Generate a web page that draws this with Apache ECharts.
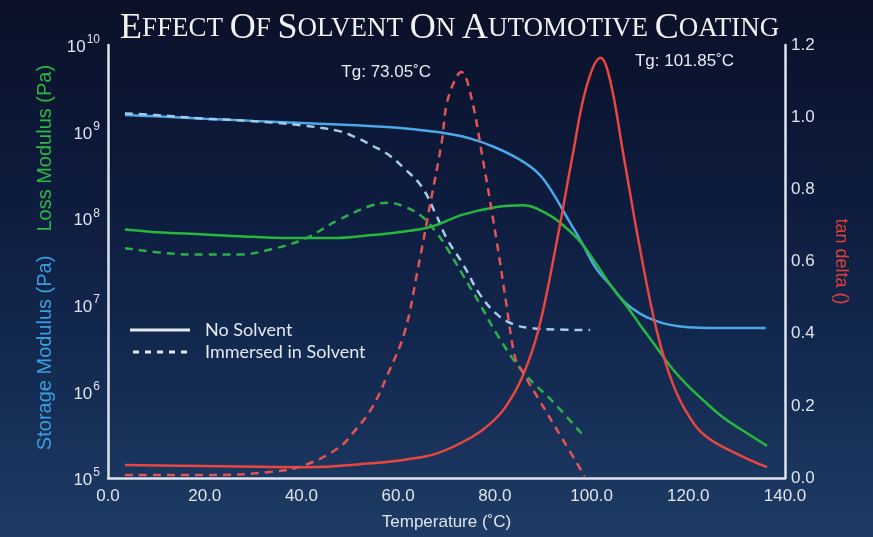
<!DOCTYPE html>
<html>
<head>
<meta charset="utf-8">
<script src="https://cdn.jsdelivr.net/npm/echarts@6/dist/echarts.min.js"></script>
<style>
html,body{margin:0;padding:0;background:#0c1530;}
#c{width:873px;height:537px;}
</style>
</head>
<body>
<div id="c"></div>
<script>
// ---- Data ----
// Storage modulus, no solvent (Pa)
const storageSolidT = [3.5, 10, 20, 30, 40, 50, 60, 66, 70, 75, 80, 85, 89, 92, 95, 98, 101, 104, 107, 110, 113, 116, 120, 125, 130, 136];
const storageSolidV = [1.55e9, 1.50e9, 1.41e9, 1.33e9, 1.26e9, 1.19e9, 1.11e9, 1.02e9, 9.5e8, 8.3e8, 6.6e8, 4.8e8, 3.3e8, 1.95e8, 1.0e8, 5.2e7, 2.6e7, 1.66e7, 1.05e7, 7.9e6, 6.6e6, 5.9e6, 5.5e6, 5.4e6, 5.4e6, 5.4e6];
// Storage modulus, immersed in solvent (Pa)
const storageDashT = [3.5, 10, 20, 30, 40, 47.6, 51, 54.6, 58, 61.4, 64.9, 68, 70, 73.4, 76.9, 80.4, 83.7, 87.3, 92, 99.7];
const storageDashV = [1.62e9, 1.55e9, 1.41e9, 1.32e9, 1.18e9, 1.02e9, 8.7e8, 6.9e8, 5.4e8, 3.7e8, 2.3e8, 1.05e8, 5.9e7, 2.95e7, 1.32e7, 7.8e6, 6.0e6, 5.4e6, 5.2e6, 5.1e6];
// Loss modulus, no solvent (Pa)
const lossSolidT = [3.5, 10, 20, 30, 40, 47, 54.6, 60, 66.6, 73.4, 80.4, 85.8, 90.8, 94.1, 97.6, 101, 104.4, 108, 110, 113.5, 116.8, 120, 123.9, 127, 130.7, 136.3];
const lossSolidV = [7.4e7, 6.9e7, 6.5e7, 6.1e7, 5.9e7, 5.9e7, 6.4e7, 6.9e7, 7.9e7, 1.1e8, 1.35e8, 1.41e8, 1.12e8, 8.3e7, 5.4e7, 2.95e7, 1.55e7, 8.5e6, 5.9e6, 3.2e6, 1.8e6, 1.15e6, 7.2e5, 5.1e5, 3.7e5, 2.35e5];
// Loss modulus, immersed in solvent (Pa)
const lossDashT = [3.5, 13.2, 20, 26.9, 33.9, 40.7, 47.6, 54.6, 57.9, 61.4, 64.9, 68.2, 70.1, 73.4, 76.9, 80.4, 85.6, 92.4, 98.6];
const lossDashV = [4.5e7, 3.9e7, 3.8e7, 3.8e7, 4.4e7, 5.8e7, 9.5e7, 1.41e8, 1.51e8, 1.35e8, 1.05e8, 6.5e7, 4.5e7, 2.2e7, 1.02e7, 4.6e6, 1.74e6, 7.2e5, 2.95e5];
// tan delta, no solvent
const tanSolidT = [3.5, 20, 40.7, 54.6, 62, 68.2, 75.2, 79, 82.1, 85.6, 89, 92.8, 96.2, 99, 101.85, 103.8, 106.5, 110, 113.5, 116.8, 120.3, 123.9, 130.7, 136.3];
const tanSolidV = [0.036, 0.033, 0.030, 0.041, 0.052, 0.069, 0.113, 0.15, 0.195, 0.278, 0.41, 0.655, 0.903, 1.087, 1.165, 1.104, 0.903, 0.636, 0.407, 0.261, 0.168, 0.113, 0.063, 0.030];
// tan delta, immersed in solvent
const tanDashT = [3.5, 20, 33.9, 40.7, 47.6, 51.1, 54.6, 57.9, 61.4, 64.1, 66.6, 69, 70.1, 72, 73.05, 74.9, 77.5, 80.4, 82.4, 84.2, 85.6, 89, 93.9, 98.6];
const tanDashV = [0.008, 0.008, 0.017, 0.036, 0.083, 0.132, 0.195, 0.289, 0.407, 0.581, 0.757, 0.93, 1.04, 1.11, 1.125, 1.068, 0.884, 0.655, 0.48, 0.333, 0.297, 0.22, 0.11, 0.005];

// Annotations
const tgTemps = [73.05, 101.85];
const tgValues = [1.125, 1.165];
const tgLabels = ['Tg: 73.05˚C', 'Tg: 101.85˚C'];

// Axis ticks
const xTicks = [0, 20, 40, 60, 80, 100, 120, 140];
const legendNames = ['No Solvent', 'Immersed in Solvent'];
const titleWords = ['EFFECT', 'OF', 'SOLVENT', 'ON', 'AUTOMOTIVE', 'COATING'];

// ---- Helpers ----
const zip = (t, v) => t.map((x, i) => [x, v[i]]);
const narrow = '"Liberation Sans Narrow", "Liberation Sans", Arial, sans-serif';
const sans = '"Liberation Sans", Arial, sans-serif';
const serif = '"Liberation Serif", "DejaVu Serif", serif';
const tickColor = '#dfe4ec';
const legendColor = '#e3e8ef';

const titleText = titleWords.map(w => '{b|' + w[0] + '}{s|' + w.slice(1) + '}').join('{s| }');

// legend icons: solid bar and dashed bar
const solidIcon = 'path://M0,0H60V3H0Z';
let dashPath = 'path://';
for (let x = 0; x < 60; x += 12) dashPath += 'M' + x + ',0H' + (x + 6) + 'V3H' + x + 'Z';
const dashIcon = dashPath;

const chart = echarts.init(document.getElementById('c'), null, {renderer: 'canvas'});

const dash = [8, 6];
const option = {
  backgroundColor: {
    type: 'linear', x: 0, y: 0, x2: 0, y2: 1,
    colorStops: [
      {offset: 0, color: '#0a1128'},
      {offset: 0.35, color: '#0d1b3d'},
      {offset: 0.7, color: '#142b52'},
      {offset: 1, color: '#1e3c66'}
    ]
  },
  animation: false,
  title: {
    text: titleText,
    left: 115,
    top: 5,
    textStyle: {
      fontWeight: 'normal',
      rich: {
        b: {fontFamily: serif, fontWeight: 'normal', fontSize: 36, color: '#f2f2f2', lineHeight: 38},
        s: {fontFamily: serif, fontWeight: 'normal', fontSize: 27, color: '#f2f2f2', lineHeight: 38}
      }
    }
  },
  grid: {left: 108, right: 88, top: 45, bottom: 59, containLabel: false},
  legend: {
    data: [
      {name: legendNames[0], icon: solidIcon},
      {name: legendNames[1], icon: dashIcon}
    ],
    orient: 'vertical',
    left: 130,
    top: 321,
    padding: 0,
    itemWidth: 60,
    itemHeight: 3,
    itemGap: 4,
    itemStyle: {color: legendColor},
    textStyle: {color: legendColor, fontSize: 18, fontFamily: 'Lato, "Open Sans", sans-serif', padding: [0, 0, 0, 10], lineHeight: 18}
  },
  xAxis: {
    type: 'value',
    min: 0, max: 140, interval: 20,
    name: 'Temperature (˚C)',
    nameLocation: 'middle',
    nameGap: 36,
    nameTextStyle: {color: tickColor, fontSize: 17, fontFamily: narrow},
    axisLine: {show: true, lineStyle: {color: tickColor, width: 2.5}},
    axisTick: {show: false},
    splitLine: {show: false},
    axisLabel: {color: tickColor, fontSize: 17, fontFamily: narrow, margin: 10, formatter: v => xTicks.includes(v) ? v.toFixed(1) : ''}
  },
  yAxis: [
    {
      type: 'log',
      logBase: 10,
      min: 1e5, max: 1e10,
      position: 'left',
      name: '{e|}{s|Storage Modulus (Pa)}{g|}{l|Loss Modulus (Pa)}',
      nameLocation: 'middle',
      nameRotate: 90,
      nameGap: 43,
      nameTextStyle: {
        rich: {
          s: {color: '#3a9fe0', fontSize: 20, fontFamily: sans},
          l: {color: '#2cb844', fontSize: 20, fontFamily: sans},
          g: {fontSize: 20, width: 24},
          e: {fontSize: 20, width: 8}
        }
      },
      axisLine: {show: true, lineStyle: {color: tickColor, width: 2.5}},
      axisTick: {show: false},
      splitLine: {show: false},
      axisLabel: {
        margin: 8,
        formatter: v => '{b|10}{s|' + Math.round(Math.log10(v)) + '}',
        rich: {
          b: {color: tickColor, fontSize: 17, fontFamily: narrow, lineHeight: 22, verticalAlign: 'bottom'},
          s: {color: tickColor, fontSize: 12, fontFamily: narrow, lineHeight: 22, verticalAlign: 'top', padding: [0, 0, 0, 1]}
        }
      }
    },
    {
      type: 'value',
      min: 0, max: 1.2, interval: 0.2,
      position: 'right',
      name: 'tan delta ()',
      nameLocation: 'middle',
      nameRotate: -90,
      nameGap: 47,
      nameTextStyle: {color: '#e0403a', fontSize: 18, fontFamily: sans},
      axisLine: {show: true, lineStyle: {color: tickColor, width: 2.5}},
      axisTick: {show: false},
      splitLine: {show: false},
      axisLabel: {color: tickColor, fontSize: 17, fontFamily: narrow, margin: 6, formatter: v => v.toFixed(1)}
    }
  ],
  series: [
    {name: legendNames[0], type: 'line', data: [], symbol: 'none', lineStyle: {color: legendColor, width: 2.5}, itemStyle: {color: legendColor}},
    {name: legendNames[1], type: 'line', data: [], symbol: 'none', lineStyle: {color: legendColor, width: 2.5, type: [6, 6]}, itemStyle: {color: legendColor}},
    {type: 'line', yAxisIndex: 0, data: zip(storageSolidT, storageSolidV), smooth: 0.4, symbol: 'none', lineStyle: {color: '#4aa9e6', width: 2.5}},
    {type: 'line', yAxisIndex: 0, data: zip(storageDashT, storageDashV), smooth: 0.4, symbol: 'none', lineStyle: {color: '#a3cbea', width: 2.5, type: dash}},
    {type: 'line', yAxisIndex: 0, data: zip(lossSolidT, lossSolidV), smooth: 0.4, symbol: 'none', lineStyle: {color: '#26b83c', width: 2.5}},
    {type: 'line', yAxisIndex: 0, data: zip(lossDashT, lossDashV), smooth: 0.4, symbol: 'none', lineStyle: {color: '#2bb04a', width: 2.5, type: dash}},
    {type: 'line', yAxisIndex: 1, data: zip(tanSolidT, tanSolidV), smooth: 0.4, symbol: 'none', lineStyle: {color: '#e8463f', width: 2.5},
      markPoint: {
        symbol: 'circle', symbolSize: 1, itemStyle: {color: 'rgba(0,0,0,0)'},
        label: {show: true, color: '#e8ecf2', fontSize: 17, fontFamily: narrow, position: 'inside', offset: [84, 4], formatter: p => p.name},
        data: [{name: tgLabels[1], coord: [tgTemps[1], tgValues[1]]}]
      }
    },
    {type: 'line', yAxisIndex: 1, data: zip(tanDashT, tanDashV), smooth: 0.4, symbol: 'none', lineStyle: {color: '#e35555', width: 2.5, type: dash},
      markPoint: {
        symbol: 'circle', symbolSize: 1, itemStyle: {color: 'rgba(0,0,0,0)'},
        label: {show: true, color: '#e8ecf2', fontSize: 17, fontFamily: narrow, position: 'inside', offset: [-75, 0], formatter: p => p.name},
        data: [{name: tgLabels[0], coord: [tgTemps[0], tgValues[0]]}]
      }
    }
  ]
};
chart.setOption(option);
</script>
</body>
</html>
